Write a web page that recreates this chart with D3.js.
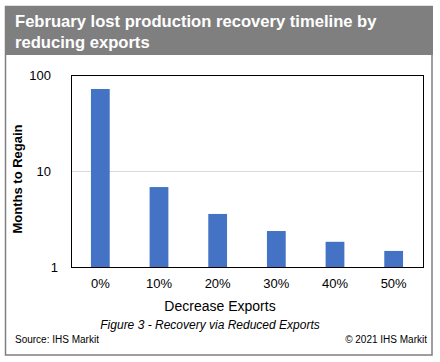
<!DOCTYPE html>
<html>
<head>
<meta charset="utf-8">
<script src="https://cdn.jsdelivr.net/npm/d3@7"></script>
<style>
  body { margin: 0; background: #fff; }
  svg { font-family: "Liberation Sans", Arial, sans-serif; display: block; }
</style>
</head>
<body>
<div id="chart"></div>
<script>
// data
const categories = ['0%', '10%', '20%', '30%', '40%', '50%'];
const months = [71.5, 6.8, 3.57, 2.37, 1.83, 1.47];
const yTicks = [1, 10, 100];

const width = 440;
const height = 362;
const plot = { left: 71, right: 423, top: 75, bottom: 267 };

const svg = d3.select('#chart').append('svg')
  .attr('width', width)
  .attr('height', height);

// outer frame + header
svg.append('rect')
  .attr('x', 5.5).attr('y', 6.5)
  .attr('width', 426.5).attr('height', 348.5)
  .attr('fill', '#fff')
  .attr('stroke', '#7f7f7f')
  .attr('stroke-width', 1.5);

svg.append('rect')
  .attr('x', 5).attr('y', 6)
  .attr('width', 428).attr('height', 49)
  .attr('fill', '#7f7f7f');

const title = svg.append('text')
  .attr('fill', '#fff')
  .style('font-weight', 'bold')
  .style('font-size', '16.6px');
title.append('tspan').attr('x', 15).attr('y', 27).text('February lost production recovery timeline by');
title.append('tspan').attr('x', 15).attr('y', 48).text('reducing exports');

// scales
const x = d3.scaleBand()
  .domain(categories)
  .range([plot.left, plot.right])
  .paddingInner(0.68)
  .paddingOuter(0.34);

const y = d3.scaleLog()
  .domain([1, 100])
  .range([plot.bottom, plot.top]);

// gridline at 10
svg.append('g')
  .selectAll('line')
  .data(yTicks.filter(d => d > 1 && d < 100))
  .join('line')
  .attr('x1', plot.left).attr('x2', plot.right)
  .attr('y1', d => y(d) + 0.5).attr('y2', d => y(d) + 0.5)
  .attr('stroke', '#d9d9d9')
  .attr('stroke-width', 1);

// bars
svg.append('g')
  .selectAll('rect')
  .data(categories)
  .join('rect')
  .attr('x', d => x(d))
  .attr('width', x.bandwidth())
  .attr('y', (d, i) => y(months[i]))
  .attr('height', (d, i) => y(1) - y(months[i]))
  .attr('fill', '#4472c4');

// plot frame
svg.append('rect')
  .attr('x', plot.left + 0.5).attr('y', plot.top + 0.5)
  .attr('width', plot.right - plot.left).attr('height', plot.bottom - plot.top)
  .attr('fill', 'none')
  .attr('stroke', '#000')
  .attr('stroke-width', 1);

// y axis labels
svg.append('g')
  .selectAll('text')
  .data(yTicks)
  .join('text')
  .attr('x', d => d === 1 ? 58 : 51)
  .attr('y', d => y(d))
  .attr('dy', '0.35em')
  .attr('text-anchor', 'end')
  .style('font-size', '13px')
  .attr('fill', '#000')
  .text(d => d);

// x axis labels
svg.append('g')
  .selectAll('text')
  .data(categories)
  .join('text')
  .attr('x', d => x(d) + x.bandwidth() / 2)
  .attr('y', 283)
  .attr('dy', '0.35em')
  .attr('text-anchor', 'middle')
  .style('font-size', '13px')
  .text(d => d);

// axis titles
svg.append('text')
  .attr('transform', 'translate(17,179) rotate(-90)')
  .attr('dy', '0.35em')
  .attr('text-anchor', 'middle')
  .style('font-size', '13px')
  .style('font-weight', 'bold')
  .text('Months to Regain');

svg.append('text')
  .attr('x', 220).attr('y', 306)
  .attr('dy', '0.35em')
  .attr('text-anchor', 'middle')
  .style('font-size', '14px')
  .text('Decrease Exports');

svg.append('text')
  .attr('x', 210).attr('y', 325)
  .attr('dy', '0.35em')
  .attr('text-anchor', 'middle')
  .style('font-size', '12px')
  .style('font-style', 'italic')
  .text('Figure 3 - Recovery via Reduced Exports');

// footer
svg.append('text')
  .attr('x', 15).attr('y', 339)
  .attr('dy', '0.35em')
  .style('font-size', '10px')
  .text('Source: IHS Markit');

svg.append('text')
  .attr('x', 427).attr('y', 339)
  .attr('dy', '0.35em')
  .attr('text-anchor', 'end')
  .style('font-size', '10px')
  .text('© 2021 IHS Markit');
</script>
</body>
</html>
